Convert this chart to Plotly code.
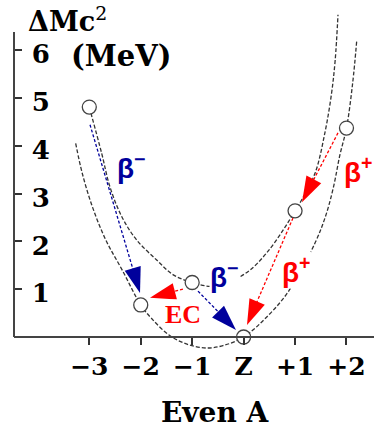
import plotly.graph_objects as go

# Mass-excess parabolas for an even-A isobar chain (offsets from stable Z)
upper_x = [-3.0, -2.759, -2.598, -2.37, -2.079, -1.69, -1.367, -1.0, -0.6, -0.2,
           0.124, 0.449, 0.77, 1.0, 1.13, 1.39, 1.58, 1.71, 1.78, 1.835]
upper_y = [4.81, 3.84, 3.14, 2.52, 2.03, 1.61, 1.30, 1.14, 1.06, 1.19,
           1.40, 1.76, 2.24, 2.64, 2.87, 3.43, 4.27, 5.10, 5.79, 6.74]

lower_x = [-3.265, -3.136, -2.942, -2.68, -2.36, -2.0, -1.80, -1.45, -1.1, -0.73,
           -0.4, 0.0, 0.45, 0.87, 1.39, 1.6, 1.75, 1.87, 2.0, 2.12, 2.20]
lower_y = [4.05, 3.42, 2.73, 2.03, 1.40, 0.67, 0.40, 0.04, -0.15, -0.23,
           -0.18, 0.0, 0.42, 0.95, 1.97, 2.55, 3.15, 3.80, 4.37, 5.31, 6.21]

# Isobars (Z offset, mass excess in MeV)
nuclide_z = [-3, -2, -1, 0, 1, 2]
nuclide_e = [4.81, 0.67, 1.14, 0.0, 2.64, 4.37]

# Decay arrows: (tail x, tail y, tip x, tip y)
beta_minus_arrows = [(-2.986, 4.44, -2.014, 0.92), (-0.887, 0.96, -0.148, 0.146)]
beta_plus_arrows = [(1.835, 4.27, 1.135, 2.82), (0.96, 2.49, 0.066, 0.25)]
ec_arrows = [(-1.18, 1.0, -1.82, 0.82)]

x_tickvals = [-4, -3, -2, -1, 0, 1, 2]
x_ticktext = ["", "\u22123", "\u22122", "\u22121", "Z", "+1", "+2"]
y_tickvals = [1, 2, 3, 4, 5, 6]
y_ticktext = ["1", "2", "3", "4", "5", "6"]

BLUE = "#00009c"
RED = "#ff0000"
CURVE = "#333333"
SERIF = "DejaVu Serif"

fig = go.Figure()

for xs, ys in ((upper_x, upper_y), (lower_x, lower_y)):
    fig.add_trace(go.Scatter(
        x=xs, y=ys, mode="lines", line_shape="spline",
        line=dict(color=CURVE, width=1.3, dash="4px,2px"),
        hoverinfo="skip", showlegend=False))


def add_arrow(arrow, color):
    x0, y0, x1, y1 = arrow
    fig.add_trace(go.Scatter(
        x=[x0, x1], y=[y0, y1], mode="lines+markers",
        line=dict(color=color, width=1.3, dash="3px,2px"),
        marker=dict(symbol="arrow", size=[0, 27], angleref="previous",
                    color=color, opacity=1, line=dict(width=0)),
        hoverinfo="skip", showlegend=False))


for a in beta_minus_arrows:
    add_arrow(a, BLUE)
for a in beta_plus_arrows + ec_arrows:
    add_arrow(a, RED)

fig.add_trace(go.Scatter(
    x=nuclide_z, y=nuclide_e, mode="markers",
    marker=dict(symbol="circle", size=14, color="white",
                line=dict(color="#444444", width=1.3)),
    hoverinfo="skip", showlegend=False))

labels = [
    ("\u03b2<sup>\u2212</sup>", -2.17, 3.58, BLUE, "Liberation Sans", 28),
    ("\u03b2<sup>\u2212</sup>", -0.38, 1.30, BLUE, "Liberation Sans", 28),
    ("EC", -1.18, 0.48, RED, "Liberation Serif", 26),
    ("\u03b2<sup>+</sup>", 2.24, 3.49, RED, "Liberation Sans", 28),
    ("\u03b2<sup>+</sup>", 1.02, 1.40, RED, "Liberation Sans", 28),
]
for text, x, y, color, fam, size in labels:
    fig.add_annotation(x=x, y=y, xref="x", yref="y", text=text, showarrow=False,
                       font=dict(family=fam, size=size, color=color, weight="bold"),
                       bgcolor="white", borderpad=0)

# axis title and unit
fig.add_annotation(x=0.036, y=0.918, xref="paper", yref="paper", xanchor="left", yanchor="bottom",
                   text="\u0394Mc<sup><span style='font-weight:normal'>2</span></sup>",
                   showarrow=False, borderpad=0,
                   font=dict(family=SERIF, size=27, color="black", weight="bold"))
fig.add_annotation(x=-2.38, y=5.88, xref="x", yref="y", text="(MeV)", showarrow=False,
                   borderpad=0, font=dict(family=SERIF, size=29, color="black", weight="bold"))
fig.add_annotation(x=0.561, y=-0.168, xref="paper", yref="paper", yanchor="middle",
                   text="Even A", showarrow=False, borderpad=0,
                   font=dict(family=SERIF, size=28, color="black", weight="bold"))

# vertical axis line from 0 up to the top of the scale
fig.add_shape(type="line", xref="paper", x0=0, x1=0, yref="y", y0=0, y1=6.38,
              line=dict(color="#444444", width=2))

fig.update_layout(
    width=374, height=431,
    margin=dict(l=14, r=0, t=10, b=76),
    paper_bgcolor="white", plot_bgcolor="white",
    xaxis=dict(range=[-4.464, 2.535], tickvals=x_tickvals, ticktext=x_ticktext,
               showgrid=False, zeroline=False, showline=True, linecolor="#444444",
               linewidth=2, ticks="outside", ticklen=7, tickwidth=1.5, tickcolor="#333333",
               anchor="free", position=0.05218,
               tickfont=dict(family=SERIF, size=25, color="black", weight="bold")),
    yaxis=dict(range=[-0.3766, 6.841], tickvals=y_tickvals, ticktext=y_ticktext,
               showgrid=False, zeroline=False, showline=False,
               ticks="inside", ticklen=8, tickwidth=1.5, tickcolor="#333333",
               ticklabelposition="inside", ticklabelstandoff=12, ticklabelshift=4,
               tickfont=dict(family=SERIF, size=26, color="black", weight="bold")),
)

fig.write_html("out.html")
